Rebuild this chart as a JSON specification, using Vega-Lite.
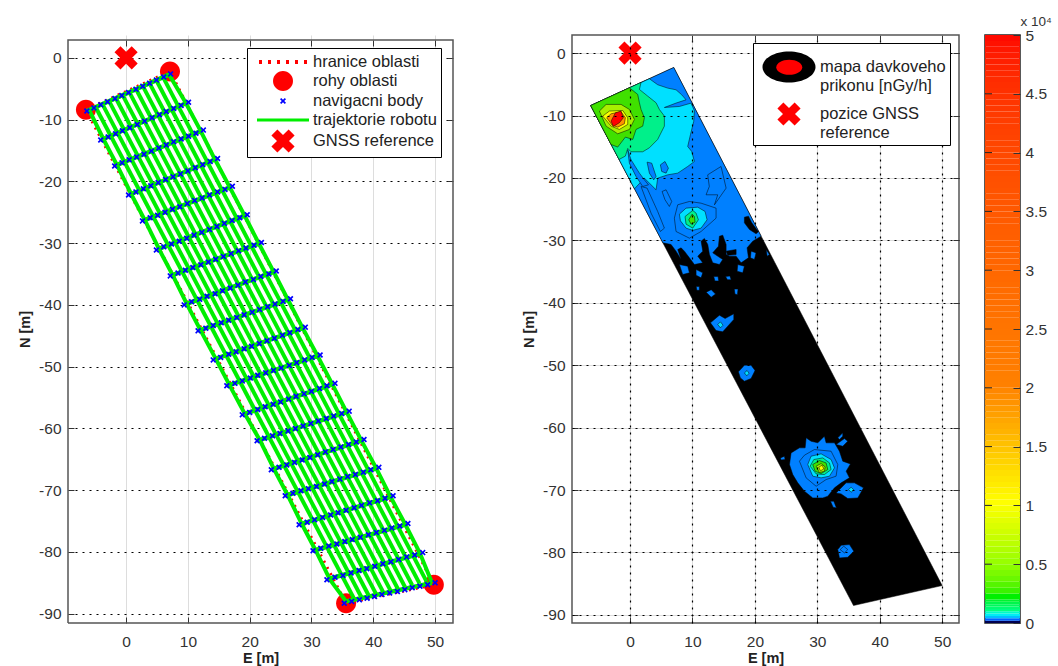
{
"background":"white",
"padding":{"left":17,"top":13,"right":0,"bottom":0},
"spacing":22,
"resolve":{"scale":{"color":"independent","shape":"independent","fill":"independent","opacity":"independent"}},
"config":{"font":"Liberation Sans","view":{"stroke":"#555","strokeWidth":1.5},
"axis":{"labelFontSize":15.5,"labelColor":"#333","titleFontSize":14.5,"titleFontWeight":"bold","titleColor":"#222","tickColor":"#333","tickWidth":1,"domain":false},
"legend":{"labelFontSize":16.5,"labelColor":"#222","padding":4,"rowPadding":0,"labelLimit":300}},
"datasets":{
"frame":[{"e":-9.4,"n":-91.5},{"e":52.9,"n":-91.5},{"e":52.9,"n":2.9},{"e":-9.4,"n":2.9},{"e":-9.4,"n":-91.5}],
"gridx":[{"e":0},{"e":10},{"e":20},{"e":30},{"e":40},{"e":50}],
"corners":[{"s":"rohy oblasti","e":-6.5,"n":-8.4},{"s":"rohy oblasti","e":7.1,"n":-2.2},{"s":"rohy oblasti","e":49.8,"n":-85.3},{"s":"rohy oblasti","e":35.6,"n":-88.3}],
"border":[{"e":-6.5,"n":-8.4},{"e":7.1,"n":-2.2},{"e":49.8,"n":-85.3},{"e":35.6,"n":-88.3},{"e":-6.5,"n":-8.4}],
"gnss":[{"e":0,"n":0}],
"gnss2":[{"s":"pozice GNSS|reference","e":0,"n":0}],
"long":[
{"t":"k1","e":-4.92,"n":-8},{"t":"k1","e":36.97,"n":-87.71},
{"t":"k2","e":-3.83,"n":-7.5},{"t":"k2","e":38.13,"n":-87.42},
{"t":"k3","e":-2.75,"n":-7},{"t":"k3","e":39.3,"n":-87.13},
{"t":"k4","e":-1.67,"n":-6.5},{"t":"k4","e":40.47,"n":-86.83},
{"t":"k5","e":-0.58,"n":-6},{"t":"k5","e":41.63,"n":-86.54},
{"t":"k6","e":0.5,"n":-5.5},{"t":"k6","e":42.8,"n":-86.25},
{"t":"k7","e":1.58,"n":-5},{"t":"k7","e":43.97,"n":-85.96},
{"t":"k8","e":2.67,"n":-4.5},{"t":"k8","e":45.13,"n":-85.67},
{"t":"k9","e":3.75,"n":-4},{"t":"k9","e":46.3,"n":-85.38},
{"t":"k10","e":4.83,"n":-3.5},{"t":"k10","e":47.47,"n":-85.08},
{"t":"k11","e":5.92,"n":-3},{"t":"k11","e":48.63,"n":-84.79},
{"t":"left","e":-5.9,"n":-8.6},{"t":"left","e":-3.6,"n":-13.3},{"t":"left","e":-1.4,"n":-17.5},{"t":"left","e":0.9,"n":-22.2},{"t":"left","e":3.1,"n":-26.4},{"t":"left","e":5.4,"n":-31.1},{"t":"left","e":7.6,"n":-35.3},{"t":"left","e":9.9,"n":-40},{"t":"left","e":12.1,"n":-44.2},{"t":"left","e":14.6,"n":-48.9},{"t":"left","e":16.8,"n":-53.1},{"t":"left","e":19.3,"n":-57.8},{"t":"left","e":21.7,"n":-62},{"t":"left","e":24,"n":-66.7},{"t":"left","e":26.2,"n":-70.9},{"t":"left","e":28.5,"n":-75.6},{"t":"left","e":30.7,"n":-79.8},{"t":"left","e":33,"n":-84.5},{"t":"left","e":35.6,"n":-88},
{"t":"right","e":6.9,"n":-2.6},{"t":"right","e":9.6,"n":-7.2},{"t":"right","e":12,"n":-11.7},{"t":"right","e":14.3,"n":-16.3},{"t":"right","e":16.7,"n":-20.8},{"t":"right","e":19.1,"n":-25.4},{"t":"right","e":21.4,"n":-29.9},{"t":"right","e":23.8,"n":-34.5},{"t":"right","e":26.1,"n":-39},{"t":"right","e":28.5,"n":-43.6},{"t":"right","e":30.9,"n":-48.1},{"t":"right","e":33.3,"n":-52.7},{"t":"right","e":35.6,"n":-57.2},{"t":"right","e":38,"n":-61.8},{"t":"right","e":40.4,"n":-66.3},{"t":"right","e":42.7,"n":-70.9},{"t":"right","e":45.1,"n":-75.4},{"t":"right","e":47.5,"n":-80.1},{"t":"right","e":49.5,"n":-85}
],
"cross":[
{"t":"r0","e":-6.35,"n":-8.6},{"t":"r0","e":7.2,"n":-2.6},
{"t":"r1","e":-3.6,"n":-13.1},{"t":"r1","e":9.6,"n":-7.4},
{"t":"r2","e":-1.85,"n":-17.5},{"t":"r2","e":12,"n":-11.9},
{"t":"r3","e":0.9,"n":-22},{"t":"r3","e":14.3,"n":-16.5},
{"t":"r4","e":2.65,"n":-26.4},{"t":"r4","e":16.7,"n":-21},
{"t":"r5","e":5.4,"n":-30.9},{"t":"r5","e":19.1,"n":-25.6},
{"t":"r6","e":7.15,"n":-35.3},{"t":"r6","e":21.4,"n":-30.1},
{"t":"r7","e":9.9,"n":-39.8},{"t":"r7","e":23.8,"n":-34.7},
{"t":"r8","e":11.65,"n":-44.2},{"t":"r8","e":26.1,"n":-39.2},
{"t":"r9","e":14.6,"n":-48.7},{"t":"r9","e":28.5,"n":-43.8},
{"t":"r10","e":16.3,"n":-53.1},{"t":"r10","e":30.9,"n":-48.3},
{"t":"r11","e":19.3,"n":-57.6},{"t":"r11","e":33.3,"n":-52.9},
{"t":"r12","e":21.2,"n":-62},{"t":"r12","e":35.6,"n":-57.4},
{"t":"r13","e":24,"n":-66.5},{"t":"r13","e":38,"n":-62},
{"t":"r14","e":25.75,"n":-70.9},{"t":"r14","e":40.4,"n":-66.5},
{"t":"r15","e":28.5,"n":-75.4},{"t":"r15","e":42.7,"n":-71.1},
{"t":"r16","e":30.25,"n":-79.8},{"t":"r16","e":45.1,"n":-75.6},
{"t":"r17","e":33,"n":-84.3},{"t":"r17","e":47.5,"n":-80.3},
{"t":"r18","e":35.6,"n":-88},{"t":"r18","e":49.5,"n":-85}
],
"nav":[
{"e":-6.35,"n":-8.6},{"e":-5.2,"n":-8.1},{"e":-4.1,"n":-7.6},{"e":-3,"n":-7.1},{"e":-1.8,"n":-6.6},{"e":-0.7,"n":-6.1},{"e":0.4,"n":-5.6},{"e":1.6,"n":-5.1},{"e":2.7,"n":-4.6},{"e":3.8,"n":-4.1},{"e":4.9,"n":-3.6},{"e":6.1,"n":-3.1},{"e":7.2,"n":-2.6},
{"e":-4.1,"n":-13.3},{"e":-2.9,"n":-12.8},{"e":-1.7,"n":-12.3},{"e":-0.6,"n":-11.8},{"e":0.6,"n":-11.3},{"e":1.8,"n":-10.8},{"e":3,"n":-10.25},{"e":4.2,"n":-9.7},{"e":5.4,"n":-9.2},{"e":6.5,"n":-8.7},{"e":7.7,"n":-8.2},{"e":8.9,"n":-7.7},{"e":10.1,"n":-7.2},
{"e":-1.85,"n":-17.5},{"e":-0.65,"n":-17},{"e":0.5,"n":-16.5},{"e":1.7,"n":-16.05},{"e":2.9,"n":-15.6},{"e":4.1,"n":-15.1},{"e":5.3,"n":-14.6},{"e":6.5,"n":-14.1},{"e":7.7,"n":-13.6},{"e":8.9,"n":-13.15},{"e":10.1,"n":-12.7},{"e":11.3,"n":-12.2},{"e":12.5,"n":-11.7},
{"e":0.4,"n":-22.2},{"e":1.6,"n":-21.7},{"e":2.8,"n":-21.2},{"e":4,"n":-20.7},{"e":5.2,"n":-20.2},{"e":6.4,"n":-19.7},{"e":7.6,"n":-19.25},{"e":8.8,"n":-18.8},{"e":10,"n":-18.3},{"e":11.2,"n":-17.8},{"e":12.4,"n":-17.3},{"e":13.6,"n":-16.8},{"e":14.8,"n":-16.3},
{"e":2.65,"n":-26.4},{"e":3.9,"n":-25.9},{"e":5.1,"n":-25.5},{"e":6.3,"n":-25},{"e":7.5,"n":-24.5},{"e":8.7,"n":-24.1},{"e":9.9,"n":-23.6},{"e":11.1,"n":-23.1},{"e":12.3,"n":-22.7},{"e":13.5,"n":-22.2},{"e":14.8,"n":-21.7},{"e":16,"n":-21.3},{"e":17.2,"n":-20.8},
{"e":4.9,"n":-31.1},{"e":6.1,"n":-30.6},{"e":7.35,"n":-30.15},{"e":8.6,"n":-29.7},{"e":9.8,"n":-29.2},{"e":11,"n":-28.7},{"e":12.25,"n":-28.25},{"e":13.5,"n":-27.8},{"e":14.7,"n":-27.3},{"e":15.9,"n":-26.8},{"e":17.15,"n":-26.35},{"e":18.4,"n":-25.9},{"e":19.6,"n":-25.4},
{"e":7.15,"n":-35.3},{"e":8.4,"n":-34.85},{"e":9.6,"n":-34.4},{"e":10.8,"n":-33.95},{"e":12.1,"n":-33.5},{"e":13.3,"n":-33.05},{"e":14.5,"n":-32.6},{"e":15.75,"n":-32.15},{"e":17,"n":-31.7},{"e":18.2,"n":-31.25},{"e":19.4,"n":-30.8},{"e":20.7,"n":-30.35},{"e":21.9,"n":-29.9},
{"e":9.4,"n":-40},{"e":10.6,"n":-39.5},{"e":11.9,"n":-39.1},{"e":13.1,"n":-38.6},{"e":14.4,"n":-38.2},{"e":15.6,"n":-37.7},{"e":16.85,"n":-37.25},{"e":18.1,"n":-36.8},{"e":19.3,"n":-36.3},{"e":20.6,"n":-35.9},{"e":21.8,"n":-35.4},{"e":23.1,"n":-35},{"e":24.3,"n":-34.5},
{"e":11.65,"n":-44.2},{"e":12.9,"n":-43.77},{"e":14.1,"n":-43.33},{"e":15.4,"n":-42.9},{"e":16.6,"n":-42.47},{"e":17.9,"n":-42.03},{"e":19.1,"n":-41.6},{"e":20.4,"n":-41.17},{"e":21.6,"n":-40.73},{"e":22.9,"n":-40.3},{"e":24.1,"n":-39.87},{"e":25.4,"n":-39.43},{"e":26.6,"n":-39},
{"e":14.1,"n":-48.9},{"e":15.3,"n":-48.5},{"e":16.6,"n":-48},{"e":17.8,"n":-47.6},{"e":19.1,"n":-47.1},{"e":20.3,"n":-46.7},{"e":21.55,"n":-46.25},{"e":22.8,"n":-45.8},{"e":24,"n":-45.4},{"e":25.3,"n":-44.9},{"e":26.5,"n":-44.5},{"e":27.8,"n":-44},{"e":29,"n":-43.6},
{"e":16.3,"n":-53.1},{"e":17.6,"n":-52.7},{"e":18.8,"n":-52.3},{"e":20.1,"n":-51.85},{"e":21.3,"n":-51.4},{"e":22.6,"n":-51},{"e":23.85,"n":-50.6},{"e":25.1,"n":-50.2},{"e":26.4,"n":-49.8},{"e":27.6,"n":-49.35},{"e":28.9,"n":-48.9},{"e":30.1,"n":-48.5},{"e":31.4,"n":-48.1},
{"e":18.8,"n":-57.8},{"e":20,"n":-57.4},{"e":21.3,"n":-56.95},{"e":22.5,"n":-56.5},{"e":23.8,"n":-56.1},{"e":25,"n":-55.7},{"e":26.3,"n":-55.25},{"e":27.5,"n":-54.8},{"e":28.8,"n":-54.4},{"e":30,"n":-54},{"e":31.3,"n":-53.55},{"e":32.5,"n":-53.1},{"e":33.8,"n":-52.7},
{"e":21.2,"n":-62},{"e":22.4,"n":-61.6},{"e":23.7,"n":-61.2},{"e":24.9,"n":-60.8},{"e":26.2,"n":-60.4},{"e":27.4,"n":-60},{"e":28.65,"n":-59.6},{"e":29.9,"n":-59.2},{"e":31.1,"n":-58.8},{"e":32.4,"n":-58.4},{"e":33.6,"n":-58},{"e":34.9,"n":-57.6},{"e":36.1,"n":-57.2},
{"e":23.5,"n":-66.7},{"e":24.75,"n":-66.3},{"e":26,"n":-65.9},{"e":27.25,"n":-65.5},{"e":28.5,"n":-65.1},{"e":29.75,"n":-64.7},{"e":31,"n":-64.25},{"e":32.25,"n":-63.8},{"e":33.5,"n":-63.4},{"e":34.75,"n":-63},{"e":36,"n":-62.6},{"e":37.25,"n":-62.2},{"e":38.5,"n":-61.8},
{"e":25.75,"n":-70.9},{"e":27,"n":-70.5},{"e":28.3,"n":-70.1},{"e":29.5,"n":-69.75},{"e":30.8,"n":-69.4},{"e":32.1,"n":-69},{"e":33.3,"n":-68.6},{"e":34.6,"n":-68.2},{"e":35.85,"n":-67.8},{"e":37.1,"n":-67.45},{"e":38.4,"n":-67.1},{"e":39.6,"n":-66.7},{"e":40.9,"n":-66.3},
{"e":28,"n":-75.6},{"e":29.3,"n":-75.2},{"e":30.5,"n":-74.8},{"e":31.8,"n":-74.4},{"e":33.1,"n":-74},{"e":34.3,"n":-73.65},{"e":35.6,"n":-73.25},{"e":36.9,"n":-72.85},{"e":38.1,"n":-72.45},{"e":39.4,"n":-72.05},{"e":40.7,"n":-71.7},{"e":41.9,"n":-71.3},{"e":43.2,"n":-70.9},
{"e":30.25,"n":-79.8},{"e":31.5,"n":-79.4},{"e":32.8,"n":-79.05},{"e":34.1,"n":-78.7},{"e":35.4,"n":-78.3},{"e":36.6,"n":-78},{"e":37.9,"n":-77.6},{"e":39.2,"n":-77.2},{"e":40.5,"n":-76.85},{"e":41.8,"n":-76.5},{"e":43,"n":-76.1},{"e":44.3,"n":-75.8},{"e":45.6,"n":-75.4},
{"e":32.5,"n":-84.5},{"e":33.8,"n":-84.1},{"e":35.1,"n":-83.8},{"e":36.4,"n":-83.4},{"e":37.7,"n":-83},{"e":38.95,"n":-82.7},{"e":40.25,"n":-82.3},{"e":41.55,"n":-81.9},{"e":42.85,"n":-81.6},{"e":44.1,"n":-81.2},{"e":45.4,"n":-80.8},{"e":46.7,"n":-80.5},{"e":48,"n":-80.1},
{"e":35.3,"n":-88.3},{"e":36.5,"n":-88},{"e":37.75,"n":-87.75},{"e":39,"n":-87.5},{"e":40.2,"n":-87.2},{"e":41.4,"n":-86.9},{"e":42.65,"n":-86.65},{"e":43.9,"n":-86.4},{"e":45.1,"n":-86.1},{"e":46.3,"n":-85.8},{"e":47.55,"n":-85.55},{"e":48.8,"n":-85.3},{"e":50,"n":-85}
],
"map":[
{"r":1,"l":"k","e":-6.3,"n":-8.4},{"r":1,"l":"k","e":7,"n":-2.3},{"r":1,"l":"k","e":50,"n":-85.3},{"r":1,"l":"k","e":35.8,"n":-88.5},
{"r":2,"l":"b","e":-6.3,"n":-8.4},{"r":2,"l":"b","e":7,"n":-2.3},{"r":2,"l":"b","e":21,"n":-29.33},{"r":2,"l":"b","e":19.66,"n":-30.13},{"r":2,"l":"b","e":18.75,"n":-31.2},{"r":2,"l":"b","e":18.97,"n":-32.8},{"r":2,"l":"b","e":17.79,"n":-33.6},{"r":2,"l":"b","e":16.99,"n":-32.53},{"r":2,"l":"b","e":15.92,"n":-32.53},{"r":2,"l":"b","e":15.39,"n":-32.27},{"r":2,"l":"b","e":15.39,"n":-30.66},{"r":2,"l":"b","e":14.85,"n":-29.17},{"r":2,"l":"b","e":14.32,"n":-29.33},{"r":2,"l":"b","e":14.16,"n":-30.93},{"r":2,"l":"b","e":13.25,"n":-32},{"r":2,"l":"b","e":14.85,"n":-33.07},{"r":2,"l":"b","e":14.32,"n":-33.87},{"r":2,"l":"b","e":13.25,"n":-33.6},{"r":2,"l":"b","e":12.72,"n":-32.27},{"r":2,"l":"b","e":12.45,"n":-30.66},{"r":2,"l":"b","e":11.91,"n":-29.7},{"r":2,"l":"b","e":11.38,"n":-30.13},{"r":2,"l":"b","e":11.65,"n":-31.73},{"r":2,"l":"b","e":10.85,"n":-32.53},{"r":2,"l":"b","e":11.65,"n":-33.6},{"r":2,"l":"b","e":10.31,"n":-33.87},{"r":2,"l":"b","e":9.51,"n":-32.8},{"r":2,"l":"b","e":8.71,"n":-31.73},{"r":2,"l":"b","e":8.18,"n":-31.2},{"r":2,"l":"b","e":7.64,"n":-31.47},{"r":2,"l":"b","e":8.18,"n":-33.07},{"r":2,"l":"b","e":7.37,"n":-31.73},{"r":2,"l":"b","e":6.57,"n":-30.66},{"r":2,"l":"b","e":5.26,"n":-30.4},
{"r":3,"l":"k","e":18.32,"n":-26.28},{"r":3,"l":"k","e":18.97,"n":-26.12},{"r":3,"l":"k","e":19.5,"n":-27.19},{"r":3,"l":"k","e":20.57,"n":-28.63},{"r":3,"l":"k","e":20.19,"n":-28.95},{"r":3,"l":"k","e":19.13,"n":-28.26},{"r":3,"l":"k","e":18.32,"n":-27.19},
{"r":4,"l":"k","e":15.39,"n":-31.73},{"r":4,"l":"k","e":16.99,"n":-31.47},{"r":4,"l":"k","e":16.99,"n":-32.27},{"r":4,"l":"k","e":15.65,"n":-32.37},
{"r":5,"l":"b","e":8.4,"n":-34.9},{"r":5,"l":"b","e":8.9,"n":-34.3},{"r":5,"l":"b","e":9.4,"n":-34.7},{"r":5,"l":"b","e":8.8,"n":-35.1},
{"r":6,"l":"b","e":13.4,"n":-35.8},{"r":6,"l":"b","e":14.1,"n":-35.8},{"r":6,"l":"b","e":14.2,"n":-36.5},{"r":6,"l":"b","e":13.6,"n":-36.5},
{"r":7,"l":"b","e":15.3,"n":-35.8},{"r":7,"l":"b","e":16,"n":-35.7},{"r":7,"l":"b","e":16.2,"n":-36.3},{"r":7,"l":"b","e":15.6,"n":-36.3},
{"r":8,"l":"b","e":16.7,"n":-37.8},{"r":8,"l":"b","e":17.3,"n":-37.8},{"r":8,"l":"b","e":17.2,"n":-38.7},{"r":8,"l":"b","e":16.8,"n":-38.6},
{"r":9,"l":"b","e":12.2,"n":-38.3},{"r":9,"l":"b","e":13,"n":-37.9},{"r":9,"l":"b","e":13.7,"n":-38.6},{"r":9,"l":"b","e":13,"n":-39.1},
{"r":10,"l":"b","e":10.6,"n":-37.4},{"r":10,"l":"b","e":11.1,"n":-37.4},{"r":10,"l":"b","e":11.1,"n":-38},{"r":10,"l":"b","e":10.7,"n":-38},
{"r":47,"l":"b","e":7.9,"n":-33.87},{"r":47,"l":"b","e":9.24,"n":-34.14},{"r":47,"l":"b","e":9.51,"n":-35.2},{"r":47,"l":"b","e":8.44,"n":-35.47},
{"r":48,"l":"b","e":10.58,"n":-34.67},{"r":48,"l":"b","e":11.65,"n":-35.2},{"r":48,"l":"b","e":11.38,"n":-36},{"r":48,"l":"b","e":10.58,"n":-35.58},
{"r":49,"l":"b","e":17.26,"n":-33.87},{"r":49,"l":"b","e":18.32,"n":-34.14},{"r":49,"l":"b","e":18.06,"n":-35.2},{"r":49,"l":"b","e":17.15,"n":-34.94},
{"r":50,"l":"b","e":19.39,"n":-31.73},{"r":50,"l":"b","e":20.19,"n":-32},{"r":50,"l":"b","e":19.93,"n":-33.07},{"r":50,"l":"b","e":19.29,"n":-32.8},
{"r":51,"l":"b","e":21.8,"n":-31.47},{"r":51,"l":"b","e":22.33,"n":-32.27},{"r":51,"l":"b","e":21.96,"n":-32.53},
{"r":11,"l":"b","e":1.76,"n":-21.37},{"r":11,"l":"b","e":2.73,"n":-21.63},{"r":11,"l":"b","e":4.43,"n":-25.37},{"r":11,"l":"b","e":5.5,"n":-28.04},{"r":11,"l":"b","e":4.86,"n":-28.58},{"r":11,"l":"b","e":3.37,"n":-25.64},
{"r":12,"l":"b","e":5.13,"n":-22.17},{"r":12,"l":"b","e":5.77,"n":-21.9},{"r":12,"l":"b","e":6.68,"n":-23.77},{"r":12,"l":"b","e":6.3,"n":-24.57},{"r":12,"l":"b","e":5.6,"n":-23.5},
{"r":13,"l":"b","e":12.44,"n":-19.5},{"r":13,"l":"b","e":14.58,"n":-18.16},{"r":13,"l":"b","e":15.39,"n":-21.63},{"r":13,"l":"b","e":13.52,"n":-24.3},{"r":13,"l":"b","e":14.05,"n":-22.7},{"r":13,"l":"b","e":12.18,"n":-22.7},{"r":13,"l":"b","e":12.7,"n":-21.37},
{"r":14,"l":"b","e":7.1,"n":-26.44},{"r":14,"l":"b","e":7.37,"n":-28.58},{"r":14,"l":"b","e":9.51,"n":-29.65},{"r":14,"l":"b","e":11.38,"n":-28.58},{"r":14,"l":"b","e":13.78,"n":-26.44},{"r":14,"l":"b","e":13.78,"n":-24.84},{"r":14,"l":"b","e":11.38,"n":-24.04},{"r":14,"l":"b","e":9.51,"n":-23.77},{"r":14,"l":"b","e":7.64,"n":-24.3},
{"r":15,"l":"c","e":-6.3,"n":-8.4},{"r":15,"l":"c","e":3.1,"n":-4.11},{"r":15,"l":"c","e":4.43,"n":-5.07},{"r":15,"l":"c","e":6.04,"n":-5.61},{"r":15,"l":"c","e":7.37,"n":-5.88},{"r":15,"l":"c","e":8.28,"n":-6.68},{"r":15,"l":"c","e":8.97,"n":-7.48},{"r":15,"l":"c","e":7.37,"n":-8.01},{"r":15,"l":"c","e":5.5,"n":-8.71},{"r":15,"l":"c","e":7.9,"n":-8.55},{"r":15,"l":"c","e":9.78,"n":-8.01},{"r":15,"l":"c","e":10.31,"n":-9.24},{"r":15,"l":"c","e":10.2,"n":-10.95},{"r":15,"l":"c","e":9.67,"n":-13.09},{"r":15,"l":"c","e":9.24,"n":-14.96},{"r":15,"l":"c","e":9.88,"n":-15.76},{"r":15,"l":"c","e":10.31,"n":-17.36},{"r":15,"l":"c","e":9.24,"n":-18.16},{"r":15,"l":"c","e":7.64,"n":-19.23},{"r":15,"l":"c","e":6.04,"n":-19.5},{"r":15,"l":"c","e":4.43,"n":-20.03},{"r":15,"l":"c","e":4.17,"n":-21.9},{"r":15,"l":"c","e":2.3,"n":-20.03},{"r":15,"l":"c","e":0.71,"n":-21.74},
{"r":16,"l":"b","e":-0.37,"n":-15.49},{"r":16,"l":"b","e":0.16,"n":-17.09},{"r":16,"l":"b","e":1.5,"n":-19.23},{"r":16,"l":"b","e":2.3,"n":-20.3},{"r":16,"l":"b","e":2.95,"n":-21.1},{"r":16,"l":"b","e":2.03,"n":-21.37},{"r":16,"l":"b","e":0.96,"n":-19.76},{"r":16,"l":"b","e":-0.11,"n":-17.63},
{"r":17,"l":"b","e":2.73,"n":-17.47},{"r":17,"l":"b","e":3.47,"n":-17.63},{"r":17,"l":"b","e":4.17,"n":-19.76},{"r":17,"l":"b","e":3.79,"n":-20.3},{"r":17,"l":"b","e":3.1,"n":-19.23},
{"r":18,"l":"b","e":4.86,"n":-17.9},{"r":18,"l":"b","e":5.6,"n":-17.36},{"r":18,"l":"b","e":6.14,"n":-18.43},{"r":18,"l":"b","e":5.77,"n":-19.23},{"r":18,"l":"b","e":5.07,"n":-18.96},
{"r":19,"l":"t","e":-6.3,"n":-8.4},{"r":19,"l":"t","e":1.76,"n":-4.7},{"r":19,"l":"t","e":1.5,"n":-5.82},{"r":19,"l":"t","e":2.83,"n":-6.89},{"r":19,"l":"t","e":4.17,"n":-7.96},{"r":19,"l":"t","e":4.7,"n":-9.03},{"r":19,"l":"t","e":5.5,"n":-10.09},{"r":19,"l":"t","e":5.5,"n":-11.7},{"r":19,"l":"t","e":4.43,"n":-13.83},{"r":19,"l":"t","e":3.1,"n":-15.17},{"r":19,"l":"t","e":2.03,"n":-15.81},{"r":19,"l":"t","e":0.16,"n":-15.81},{"r":19,"l":"t","e":-0.37,"n":-15.28},{"r":19,"l":"t","e":-0.75,"n":-16.5},{"r":19,"l":"t","e":-1.76,"n":-17.04},
{"r":20,"l":"g","e":-6.3,"n":-8.4},{"r":20,"l":"g","e":-0.1,"n":-5.56},{"r":20,"l":"g","e":1.23,"n":-6.62},{"r":20,"l":"g","e":1.5,"n":-7.96},{"r":20,"l":"g","e":1.76,"n":-9.03},{"r":20,"l":"g","e":2.3,"n":-10.36},{"r":20,"l":"g","e":2.03,"n":-11.7},{"r":20,"l":"g","e":0.96,"n":-12.23},{"r":20,"l":"g","e":0.43,"n":-13.83},{"r":20,"l":"g","e":-0.75,"n":-13.46},{"r":20,"l":"g","e":-1.98,"n":-15.06},{"r":20,"l":"g","e":-3.04,"n":-14.63},
{"r":21,"l":"y","e":-4.91,"n":-9.29},{"r":21,"l":"y","e":-3.84,"n":-8.22},{"r":21,"l":"y","e":-1.44,"n":-8.22},{"r":21,"l":"y","e":-0.1,"n":-9.03},{"r":21,"l":"y","e":0.7,"n":-10.63},{"r":21,"l":"y","e":-0.1,"n":-12.23},{"r":21,"l":"y","e":-1.98,"n":-12.93},{"r":21,"l":"y","e":-3.84,"n":-11.7},
{"r":22,"l":"w","e":-4.38,"n":-10.09},{"r":22,"l":"w","e":-3.31,"n":-9.29},{"r":22,"l":"w","e":-1.17,"n":-9.19},{"r":22,"l":"w","e":-0.37,"n":-10.36},{"r":22,"l":"w","e":-0.37,"n":-11.43},{"r":22,"l":"w","e":-1.71,"n":-12.23},{"r":22,"l":"w","e":-3.04,"n":-11.7},
{"r":23,"l":"o","e":-3.74,"n":-10.36},{"r":23,"l":"o","e":-3.04,"n":-9.72},{"r":23,"l":"o","e":-1.44,"n":-9.4},{"r":23,"l":"o","e":-0.75,"n":-10.36},{"r":23,"l":"o","e":-0.91,"n":-11.32},{"r":23,"l":"o","e":-1.98,"n":-11.86},{"r":23,"l":"o","e":-2.88,"n":-11.54},
{"r":24,"l":"r","e":-3.04,"n":-10.9},{"r":24,"l":"r","e":-2.35,"n":-9.56},{"r":24,"l":"r","e":-1.44,"n":-9.29},{"r":24,"l":"r","e":-1.07,"n":-10.36},{"r":24,"l":"r","e":-1.71,"n":-11.16},{"r":24,"l":"r","e":-2.67,"n":-11.75},
{"r":25,"l":"c","e":7.9,"n":-25.8},{"r":25,"l":"c","e":8.97,"n":-24.84},{"r":25,"l":"c","e":10.84,"n":-24.68},{"r":25,"l":"c","e":12.02,"n":-25.37},{"r":25,"l":"c","e":12.34,"n":-26.71},{"r":25,"l":"c","e":11.38,"n":-28.04},{"r":25,"l":"c","e":10.04,"n":-28.4},{"r":25,"l":"c","e":8.97,"n":-28.04},{"r":25,"l":"c","e":8.07,"n":-26.87},
{"r":26,"l":"t","e":8.81,"n":-26.18},{"r":26,"l":"t","e":10.04,"n":-25.21},{"r":26,"l":"t","e":10.58,"n":-25.64},{"r":26,"l":"t","e":10.95,"n":-26.71},{"r":26,"l":"t","e":10.04,"n":-28.04},{"r":26,"l":"t","e":8.97,"n":-27.4},
{"r":27,"l":"g","e":9.4,"n":-26.71},{"r":27,"l":"g","e":9.94,"n":-25.8},{"r":27,"l":"g","e":10.31,"n":-26.18},{"r":27,"l":"g","e":10.42,"n":-27.08},{"r":27,"l":"g","e":9.78,"n":-27.4},
{"r":28,"l":"b","e":12.88,"n":-43.21},{"r":28,"l":"b","e":14.32,"n":-41.98},{"r":28,"l":"b","e":15.23,"n":-42.52},{"r":28,"l":"b","e":16.62,"n":-41.77},{"r":28,"l":"b","e":16.62,"n":-42.68},{"r":28,"l":"b","e":15.65,"n":-43.75},{"r":28,"l":"b","e":14.85,"n":-44.65},{"r":28,"l":"b","e":13.78,"n":-44.44},
{"r":29,"l":"c","e":14.05,"n":-43.48},{"r":29,"l":"c","e":14.48,"n":-43.05},{"r":29,"l":"c","e":14.9,"n":-43.59},{"r":29,"l":"c","e":14.48,"n":-44.01},
{"r":30,"l":"b","e":17.36,"n":-51.06},{"r":30,"l":"b","e":18.32,"n":-49.99},{"r":30,"l":"b","e":19.39,"n":-49.99},{"r":30,"l":"b","e":20.03,"n":-50.85},{"r":30,"l":"b","e":19.39,"n":-52.13},{"r":30,"l":"b","e":18.32,"n":-52.56},{"r":30,"l":"b","e":17.68,"n":-52.03},
{"r":31,"l":"c","e":18.32,"n":-51.23},{"r":31,"l":"c","e":18.75,"n":-50.85},{"r":31,"l":"c","e":19.07,"n":-51.28},{"r":31,"l":"c","e":18.7,"n":-51.71},
{"r":32,"l":"b","e":25.8,"n":-64.05},{"r":32,"l":"b","e":27.14,"n":-63.24},{"r":32,"l":"b","e":28.05,"n":-63.24},{"r":32,"l":"b","e":28.21,"n":-61.64},{"r":32,"l":"b","e":29,"n":-62.18},{"r":32,"l":"b","e":30.08,"n":-62.44},{"r":32,"l":"b","e":31.14,"n":-61.37},{"r":32,"l":"b","e":31.41,"n":-62.44},{"r":32,"l":"b","e":32.75,"n":-62.44},{"r":32,"l":"b","e":33.55,"n":-63.78},{"r":32,"l":"b","e":34.08,"n":-65.38},{"r":32,"l":"b","e":35.31,"n":-65.81},{"r":32,"l":"b","e":34.62,"n":-66.98},{"r":32,"l":"b","e":35.15,"n":-68.05},{"r":32,"l":"b","e":33.82,"n":-68.85},{"r":32,"l":"b","e":32.75,"n":-69.65},{"r":32,"l":"b","e":31.68,"n":-70.99},{"r":32,"l":"b","e":30.88,"n":-71.26},{"r":32,"l":"b","e":29.27,"n":-71.26},{"r":32,"l":"b","e":27.94,"n":-70.19},{"r":32,"l":"b","e":26.87,"n":-68.85},{"r":32,"l":"b","e":26.07,"n":-67.52},{"r":32,"l":"b","e":25.54,"n":-65.91},
{"r":33,"l":"b","e":27.14,"n":-65.38},{"r":33,"l":"b","e":27.94,"n":-64.42},{"r":33,"l":"b","e":29.54,"n":-63.51},{"r":33,"l":"b","e":32.21,"n":-63.78},{"r":33,"l":"b","e":33.28,"n":-65.91},{"r":33,"l":"b","e":33.01,"n":-67.78},{"r":33,"l":"b","e":31.41,"n":-68.32},{"r":33,"l":"b","e":29.81,"n":-69.39},{"r":33,"l":"b","e":28.21,"n":-68.05},
{"r":34,"l":"c","e":28.47,"n":-65.91},{"r":34,"l":"c","e":29,"n":-64.58},{"r":34,"l":"c","e":30.61,"n":-64.2},{"r":34,"l":"c","e":32.21,"n":-65.11},{"r":34,"l":"c","e":32.75,"n":-66.45},{"r":34,"l":"c","e":31.95,"n":-67.78},{"r":34,"l":"c","e":30.61,"n":-68.05},{"r":34,"l":"c","e":29.27,"n":-67.78},
{"r":35,"l":"t","e":28.85,"n":-66.18},{"r":35,"l":"t","e":29.44,"n":-65.11},{"r":35,"l":"t","e":30.88,"n":-64.85},{"r":35,"l":"t","e":31.95,"n":-65.65},{"r":35,"l":"t","e":32.21,"n":-66.72},{"r":35,"l":"t","e":31.14,"n":-67.52},{"r":35,"l":"t","e":29.81,"n":-67.41},
{"r":36,"l":"g","e":29.27,"n":-65.91},{"r":36,"l":"g","e":30.34,"n":-65.27},{"r":36,"l":"g","e":31.41,"n":-65.65},{"r":36,"l":"g","e":31.68,"n":-66.72},{"r":36,"l":"g","e":30.61,"n":-67.36},{"r":36,"l":"g","e":29.65,"n":-66.98},
{"r":37,"l":"y","e":29.81,"n":-66.18},{"r":37,"l":"y","e":30.61,"n":-65.75},{"r":37,"l":"y","e":31.25,"n":-66.29},{"r":37,"l":"y","e":31.14,"n":-66.98},{"r":37,"l":"y","e":30.34,"n":-67.2},
{"r":38,"l":"w","e":30.24,"n":-66.34},{"r":38,"l":"w","e":30.77,"n":-66.02},{"r":38,"l":"w","e":31.04,"n":-66.61},{"r":38,"l":"w","e":30.5,"n":-66.93},
{"r":39,"l":"b","e":24.09,"n":-64.85},{"r":39,"l":"b","e":24.73,"n":-64.58},{"r":39,"l":"b","e":24.84,"n":-65.11},{"r":39,"l":"b","e":24.2,"n":-65.17},
{"r":40,"l":"b","e":33.28,"n":-61.64},{"r":40,"l":"b","e":34.08,"n":-60.84},{"r":40,"l":"b","e":34.08,"n":-61.37},{"r":40,"l":"b","e":33.55,"n":-61.91},
{"r":41,"l":"b","e":33.01,"n":-62.71},{"r":41,"l":"b","e":34.35,"n":-61.75},{"r":41,"l":"b","e":34.88,"n":-62.18},{"r":41,"l":"b","e":34.08,"n":-62.98},
{"r":42,"l":"b","e":33.01,"n":-70.46},{"r":42,"l":"b","e":34.62,"n":-68.85},{"r":42,"l":"b","e":35.95,"n":-68.85},{"r":42,"l":"b","e":37.4,"n":-69.65},{"r":42,"l":"b","e":36.49,"n":-71.26},{"r":42,"l":"b","e":34.88,"n":-71.36},{"r":42,"l":"b","e":33.82,"n":-70.62},
{"r":43,"l":"c","e":34.99,"n":-69.92},{"r":43,"l":"c","e":35.42,"n":-69.55},{"r":43,"l":"c","e":35.85,"n":-69.97},{"r":43,"l":"c","e":35.42,"n":-70.35},
{"r":44,"l":"b","e":32.11,"n":-71.79},{"r":44,"l":"b","e":32.64,"n":-71.79},{"r":44,"l":"b","e":33.07,"n":-72.86},{"r":44,"l":"b","e":32.53,"n":-72.75},
{"r":45,"l":"b","e":33.28,"n":-79.54},{"r":45,"l":"b","e":33.82,"n":-78.84},{"r":45,"l":"b","e":35.15,"n":-78.74},{"r":45,"l":"b","e":35.85,"n":-79.81},{"r":45,"l":"b","e":34.88,"n":-80.77},{"r":45,"l":"b","e":33.55,"n":-80.87},
{"r":46,"l":"b","e":33.66,"n":-79.54},{"r":46,"l":"b","e":34.24,"n":-79},{"r":46,"l":"b","e":34.88,"n":-79.54},{"r":46,"l":"b","e":34.35,"n":-80.07}
],
"bar":[
{"a":0,"b":0.02},{"a":0.02,"b":0.04},{"a":0.04,"b":0.06},{"a":0.06,"b":0.08},{"a":0.08,"b":0.1},{"a":0.1,"b":0.12},{"a":0.12,"b":0.14},{"a":0.14,"b":0.16},{"a":0.16,"b":0.18},{"a":0.18,"b":0.2},{"a":0.2,"b":0.25},{"a":0.25,"b":0.3},{"a":0.3,"b":0.35},{"a":0.35,"b":0.4},{"a":0.4,"b":0.45},{"a":0.45,"b":0.5},{"a":0.5,"b":0.55},{"a":0.55,"b":0.6},{"a":0.6,"b":0.65},{"a":0.65,"b":0.7},{"a":0.7,"b":0.75},{"a":0.75,"b":0.8},{"a":0.8,"b":0.85},{"a":0.85,"b":0.9},{"a":0.9,"b":0.95},{"a":0.95,"b":1},
{"a":1,"b":1.05},{"a":1.05,"b":1.1},{"a":1.1,"b":1.15},{"a":1.15,"b":1.2},{"a":1.2,"b":1.25},{"a":1.25,"b":1.3},{"a":1.3,"b":1.35},{"a":1.35,"b":1.4},{"a":1.4,"b":1.45},{"a":1.45,"b":1.5},{"a":1.5,"b":1.55},{"a":1.55,"b":1.6},{"a":1.6,"b":1.65},{"a":1.65,"b":1.7},{"a":1.7,"b":1.75},{"a":1.75,"b":1.8},{"a":1.8,"b":1.85},{"a":1.85,"b":1.9},{"a":1.9,"b":1.95},{"a":1.95,"b":2},
{"a":2,"b":2.05},{"a":2.05,"b":2.1},{"a":2.1,"b":2.15},{"a":2.15,"b":2.2},{"a":2.2,"b":2.25},{"a":2.25,"b":2.3},{"a":2.3,"b":2.35},{"a":2.35,"b":2.4},{"a":2.4,"b":2.45},{"a":2.45,"b":2.5},{"a":2.5,"b":2.55},{"a":2.55,"b":2.6},{"a":2.6,"b":2.65},{"a":2.65,"b":2.7},{"a":2.7,"b":2.75},{"a":2.75,"b":2.8},{"a":2.8,"b":2.85},{"a":2.85,"b":2.9},{"a":2.9,"b":2.95},{"a":2.95,"b":3},
{"a":3,"b":3.05},{"a":3.05,"b":3.1},{"a":3.1,"b":3.15},{"a":3.15,"b":3.2},{"a":3.2,"b":3.25},{"a":3.25,"b":3.3},{"a":3.3,"b":3.35},{"a":3.35,"b":3.4},{"a":3.4,"b":3.45},{"a":3.45,"b":3.5},{"a":3.5,"b":3.55},{"a":3.55,"b":3.6},{"a":3.6,"b":3.65},{"a":3.65,"b":3.7},{"a":3.7,"b":3.75},{"a":3.75,"b":3.8},{"a":3.8,"b":3.85},{"a":3.85,"b":3.9},{"a":3.9,"b":3.95},{"a":3.95,"b":4},
{"a":4,"b":4.05},{"a":4.05,"b":4.1},{"a":4.1,"b":4.15},{"a":4.15,"b":4.2},{"a":4.2,"b":4.25},{"a":4.25,"b":4.3},{"a":4.3,"b":4.35},{"a":4.35,"b":4.4},{"a":4.4,"b":4.45},{"a":4.45,"b":4.5},{"a":4.5,"b":4.55},{"a":4.55,"b":4.6},{"a":4.6,"b":4.65},{"a":4.65,"b":4.7},{"a":4.7,"b":4.75},{"a":4.75,"b":4.8},{"a":4.8,"b":4.85},{"a":4.85,"b":4.9},{"a":4.9,"b":4.95},{"a":4.95,"b":5}
],
"bticks":[{"a":0.5},{"a":1},{"a":1.5},{"a":2},{"a":2.5},{"a":3},{"a":3.5},{"a":4},{"a":4.5}]
},
"hconcat":[
{"spacing":64,
"resolve":{"scale":{"color":"independent","shape":"independent","fill":"independent","opacity":"independent"}},
"hconcat":[
{"width":385,"height":588,"view":{"stroke":null},
"encoding":{
"x":{"field":"e","type":"quantitative","scale":{"domain":[-9.4,52.9],"nice":false,"zero":false},"axis":null},
"y":{"field":"n","type":"quantitative","scale":{"domain":[-91.5,3.7],"nice":false,"zero":false},"axis":null}},
"resolve":{"axis":{"x":"independent","y":"independent"}},
"layer":[
{"data":{"name":"frame"},"mark":{"type":"line","color":"#555","strokeWidth":1.5,"order":null},
"encoding":{
"x":{"field":"e","type":"quantitative","scale":{"domain":[-9.4,52.9],"nice":false,"zero":false},"axis":{"orient":"bottom","values":[0,10,20,30,40,50],"tickSize":-6,"labelPadding":17,"title":"E [m]","titlePadding":2}},
"y":{"field":"n","type":"quantitative","scale":{"domain":[-91.5,3.7],"nice":false,"zero":false},"axis":{"orient":"left","values":[0,-10,-20,-30,-40,-50,-60,-70,-80,-90],"labelExpr":"''+datum.value","grid":true,"gridDash":[2,5],"gridColor":"#000","gridWidth":1.2,"tickSize":-6,"labelPadding":13,"title":"N [m]","titlePadding":6}}}},
{"data":{"name":"gridx"},"mark":{"type":"rule","color":"#000","strokeWidth":1.5,"strokeDash":[2,5]},
"encoding":{"y":{"datum":-91.5,"type":"quantitative"},"y2":{"datum":2.9}}},
{"data":{"name":"border"},"mark":{"type":"line","color":"#ff0000","strokeWidth":3,"strokeDash":[2,5],"order":null}},
{"data":{"name":"corners"},"mark":{"type":"point","filled":true,"opacity":1,"size":400},
"encoding":{
"color":{"field":"s","type":"nominal","scale":{"domain":["hranice oblasti","rohy oblasti","navigacni body","trajektorie robotu","GNSS reference"],"range":["#ff0000","#ff0000","#0000ff","#00ee00","#ff0000"]},
"legend":{"title":null,"orient":"none","legendX":179,"legendY":13,"symbolSize":400,"symbolOffset":22,"labelOffset":20,"strokeColor":"#000","fillColor":"#fff","symbolStrokeWidth":0}},
"shape":{"field":"s","type":"nominal","scale":{"domain":["hranice oblasti","rohy oblasti","navigacni body","trajektorie robotu","GNSS reference"],"range":["M-2.4,-.2h.3v.4h-.3zM-1.5,-.2h.3v.4h-.3zM-.6,-.2h.3v.4h-.3zM.3,-.2h.3v.4h-.3zM1.2,-.2h.3v.4h-.3zM2.1,-.2h.3v.4h-.3z","M-1,0A1,1 0 1,1 1,0A1,1 0 1,1 -1,0Z","M-.3,-.18L-.18,-.3L0,-.12L.18,-.3L.3,-.18L.12,0L.3,.18L.18,.3L0,.12L-.18,.3L-.3,.18L-.12,0Z","M-2.6,-.15H2.6V.15H-2.6Z","M-1.16,-.56L-.56,-1.16L0,-.6L.56,-1.16L1.16,-.56L.6,0L1.16,.56L.56,1.16L0,.6L-.56,1.16L-1.16,.56L-.6,0Z"]},
"legend":{"title":null,"orient":"none","legendX":179,"legendY":13,"symbolSize":400,"symbolOffset":22,"labelOffset":20,"strokeColor":"#000","fillColor":"#fff","symbolStrokeWidth":0}}}},
{"data":{"name":"long"},"mark":{"type":"line","color":"#00ee00","strokeWidth":4,"order":null},"encoding":{"detail":{"field":"t"}}},
{"data":{"name":"cross"},"mark":{"type":"line","color":"#00ee00","strokeWidth":4.5,"order":null},"encoding":{"detail":{"field":"t"}}},
{"data":{"name":"nav"},"mark":{"type":"point","filled":true,"opacity":1,"size":400},
"encoding":{
"color":{"datum":"navigacni body","type":"nominal","scale":{"domain":["hranice oblasti","rohy oblasti","navigacni body","trajektorie robotu","GNSS reference"],"range":["#ff0000","#ff0000","#0000ff","#00ee00","#ff0000"]}},
"shape":{"datum":"navigacni body","type":"nominal","scale":{"domain":["hranice oblasti","rohy oblasti","navigacni body","trajektorie robotu","GNSS reference"],"range":["M-2.4,-.2h.3v.4h-.3zM-1.5,-.2h.3v.4h-.3zM-.6,-.2h.3v.4h-.3zM.3,-.2h.3v.4h-.3zM1.2,-.2h.3v.4h-.3zM2.1,-.2h.3v.4h-.3z","M-1,0A1,1 0 1,1 1,0A1,1 0 1,1 -1,0Z","M-.3,-.18L-.18,-.3L0,-.12L.18,-.3L.3,-.18L.12,0L.3,.18L.18,.3L0,.12L-.18,.3L-.3,.18L-.12,0Z","M-2.6,-.15H2.6V.15H-2.6Z","M-1.16,-.56L-.56,-1.16L0,-.6L.56,-1.16L1.16,-.56L.6,0L1.16,.56L.56,1.16L0,.6L-.56,1.16L-1.16,.56L-.6,0Z"]}}}},
{"data":{"name":"gnss"},"mark":{"type":"point","filled":true,"opacity":1,"size":400},
"encoding":{
"x":{"field":"e","type":"quantitative","scale":{"domain":[-9.4,52.9],"nice":false,"zero":false},"axis":{"orient":"top","offset":-5,"values":[0,10,20,30,40,50],"labels":false,"grid":false,"tickSize":-6,"title":null}},
"y":{"field":"n","type":"quantitative","scale":{"domain":[-91.5,3.7],"nice":false,"zero":false},"axis":{"orient":"right","values":[0,-10,-20,-30,-40,-50,-60,-70,-80,-90],"labels":false,"grid":false,"tickSize":-6,"title":null}},
"color":{"datum":"GNSS reference","type":"nominal","scale":{"domain":["hranice oblasti","rohy oblasti","navigacni body","trajektorie robotu","GNSS reference"],"range":["#ff0000","#ff0000","#0000ff","#00ee00","#ff0000"]}},
"shape":{"datum":"GNSS reference","type":"nominal","scale":{"domain":["hranice oblasti","rohy oblasti","navigacni body","trajektorie robotu","GNSS reference"],"range":["M-2.4,-.2h.3v.4h-.3zM-1.5,-.2h.3v.4h-.3zM-.6,-.2h.3v.4h-.3zM.3,-.2h.3v.4h-.3zM1.2,-.2h.3v.4h-.3zM2.1,-.2h.3v.4h-.3z","M-1,0A1,1 0 1,1 1,0A1,1 0 1,1 -1,0Z","M-.3,-.18L-.18,-.3L0,-.12L.18,-.3L.3,-.18L.12,0L.3,.18L.18,.3L0,.12L-.18,.3L-.3,.18L-.12,0Z","M-2.6,-.15H2.6V.15H-2.6Z","M-1.16,-.56L-.56,-1.16L0,-.6L.56,-1.16L1.16,-.56L.6,0L1.16,.56L.56,1.16L0,.6L-.56,1.16L-1.16,.56L-.6,0Z"]}}}}
]},
{"width":387,"height":588,
"encoding":{
"x":{"field":"e","type":"quantitative","scale":{"domain":[-9.3,52.7],"nice":false,"zero":false},"axis":null},
"y":{"field":"n","type":"quantitative","scale":{"domain":[-91.3,2.9],"nice":false,"zero":false},"axis":null}},
"resolve":{"axis":{"x":"independent","y":"independent"}},
"layer":[
{"data":{"name":"map"},"mark":{"type":"line","stroke":"#000","strokeWidth":0.5,"interpolate":"linear-closed","order":null},
"encoding":{
"x":{"field":"e","type":"quantitative","scale":{"domain":[-9.3,52.7],"nice":false,"zero":false},"axis":{"orient":"bottom","values":[0,10,20,30,40,50],"tickSize":-6,"labelPadding":17,"title":"E [m]","titlePadding":2}},
"y":{"field":"n","type":"quantitative","scale":{"domain":[-91.3,2.9],"nice":false,"zero":false},"axis":{"orient":"left","values":[0,-10,-20,-30,-40,-50,-60,-70,-80,-90],"labelExpr":"''+datum.value","tickSize":-6,"labelPadding":13,"title":"N [m]","titlePadding":6}},
"detail":{"field":"r"},
"fill":{"field":"l","type":"nominal","legend":null,"scale":{"domain":["k","b","c","t","g","y","w","o","r"],"range":["#000000","#0080ff","#00e0ff","#00f08a","#40e000","#a8f000","#ffff00","#ff9000","#ff0000"]}}}},
{"data":{"name":"gnss2"},"mark":{"type":"point","filled":true,"opacity":1,"size":1600},
"encoding":{
"x":{"field":"e","type":"quantitative","scale":{"domain":[-9.3,52.7],"nice":false,"zero":false},"axis":{"orient":"top","values":[0,10,20,30,40,50],"labels":false,"grid":true,"gridDash":[2,5],"gridColor":"#000","gridWidth":1.2,"tickSize":-6,"title":null,"zindex":1}},
"y":{"field":"n","type":"quantitative","scale":{"domain":[-91.3,2.9],"nice":false,"zero":false},"axis":{"orient":"right","values":[0,-10,-20,-30,-40,-50,-60,-70,-80,-90],"labels":false,"grid":true,"gridDash":[2,5],"gridColor":"#000","gridWidth":1.2,"tickSize":-6,"title":null,"zindex":1}},
"color":{"field":"s","type":"nominal","scale":{"domain":["mapa davkoveho|prikonu [nGy/h]","pozice GNSS|reference"],"range":["#000000","#ff0000"]},
"legend":{"title":null,"orient":"none","legendX":181,"legendY":8,"symbolSize":1600,"symbolOffset":12,"labelOffset":11,"labelBaseline":"middle","strokeColor":"#000","fillColor":"#fff","labelExpr":"split(datum.label,'|')","symbolStrokeWidth":0,"zindex":1}},
"shape":{"field":"s","type":"nominal","scale":{"domain":["mapa davkoveho|prikonu [nGy/h]","pozice GNSS|reference"],"range":["M-1.325,0A1.325,.775 0 1,1 1.325,0A1.325,.775 0 1,1 -1.325,0Z","M-.58,-.28L-.28,-.58L0,-.3L.28,-.58L.58,-.28L.3,0L.58,.28L.28,.58L0,.3L-.28,.58L-.58,.28L-.3,0Z"]},
"legend":{"title":null,"orient":"none","legendX":181,"legendY":8,"symbolSize":1600,"symbolOffset":12,"labelOffset":11,"labelBaseline":"middle","strokeColor":"#000","fillColor":"#fff","labelExpr":"split(datum.label,'|')","symbolStrokeWidth":0,"zindex":1}}}},
{"data":{"values":[]},"mark":{"type":"point","filled":true,"color":"#ff0000","shape":"M-.65,0A.65,.38 0 1,1 .65,0A.65,.38 0 1,1 -.65,0Z","size":1600},
"encoding":{"opacity":{"datum":"h","type":"nominal","scale":{"domain":["h"],"range":[1]},"legend":{"title":null,"orient":"none","legendX":181,"legendY":5.25,"symbolSize":1600,"symbolOffset":9.25,"labelExpr":"''","symbolStrokeColor":"#00f08a","symbolStrokeWidth":5.5,"zindex":3}}}}
]}
]},
{"width":35,"height":588,"view":{"stroke":"#222"},
"layer":[
{"data":{"name":"bar"},"mark":{"type":"rect"},
"encoding":{
"y":{"field":"a","type":"quantitative","scale":{"domain":[0,5],"nice":false},"axis":{"orient":"right","values":[0,0.5,1,1.5,2,2.5,3,3.5,4,4.5,5],"labelExpr":"''+datum.value","tickSize":-7,"labelPadding":12,"grid":false,"zindex":1,"labelFlush":false,"title":"x 10⁴","titleAngle":0,"titleX":0,"titleY":-14,"titleAlign":"left","titleBaseline":"middle","titleFontWeight":"normal","titleFontSize":13.5,"titleColor":"#333"}},
"y2":{"field":"b"},
"color":{"field":"a","type":"quantitative","legend":null,"scale":{"domain":[0,0.02,0.05,0.1,0.2,0.5,1,2,5],"range":["#000050","#0060ff","#00e5ff","#00ff80","#00f000","#99ff00","#ffff00","#ff8000","#ff0000"]}}}},
{"data":{"name":"bticks"},"mark":{"type":"rule","color":"#222"},
"encoding":{
"y":{"field":"a","type":"quantitative","scale":{"domain":[0,5],"nice":false}},
"x":{"datum":0,"type":"quantitative","scale":{"domain":[0,35]},"axis":null},
"x2":{"datum":7}}}
]}
]
}
